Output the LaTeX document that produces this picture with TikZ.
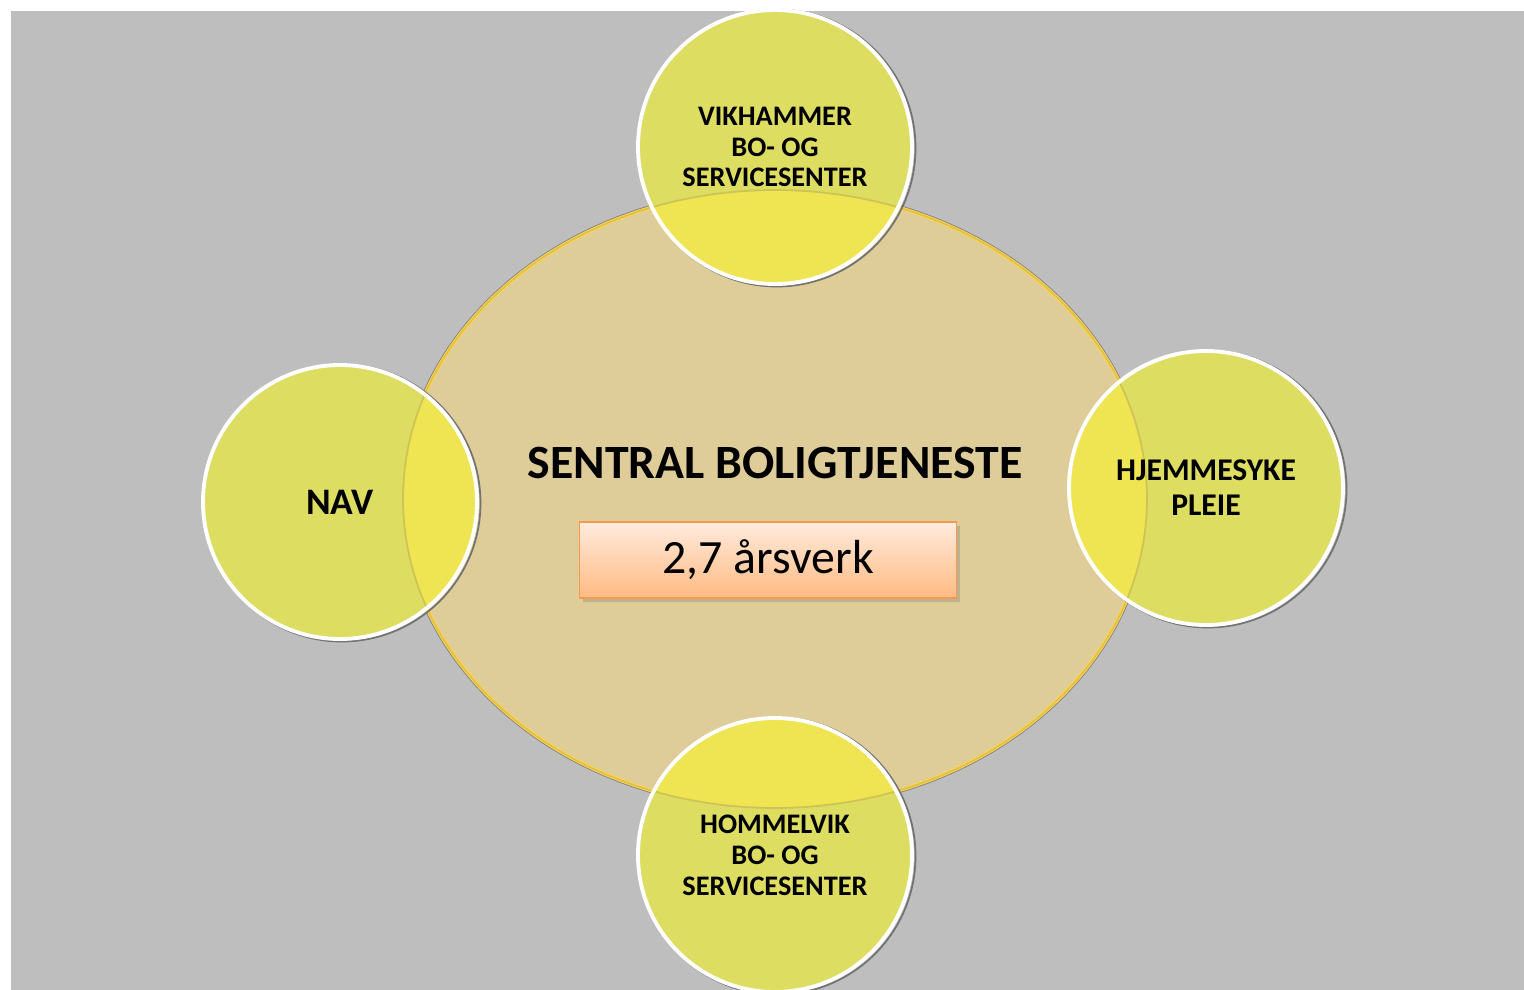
\documentclass[tikz,border=0pt]{standalone}
\usepackage{fontspec}
\setmainfont{Carlito}
\usetikzlibrary{shadows}

\definecolor{bggrey}{HTML}{BEBEBE}
\definecolor{ovaltan}{HTML}{DFCD99}
\definecolor{ovaledge}{HTML}{FDD750}
\definecolor{ballfill}{HTML}{DDDD62}
\definecolor{ballover}{HTML}{EFE552}
\definecolor{boxedge}{HTML}{F59A4E}
\definecolor{boxtop}{HTML}{FFEBDD}
\definecolor{boxbot}{HTML}{FFBA82}

\begin{document}
\begin{tikzpicture}[x=0.02cm,y=-0.02cm,
  ball/.style={circle,minimum size=5.48cm,inner sep=0pt,align=center,
    font=\bfseries\fontsize{16.1}{17.6}\selectfont},
  rim/.style={white,line width=2.2pt},
  rimshadow/.style={black!55,line width=1pt}]
\useasboundingbox (0,0) rectangle (1524,990);
\fill[bggrey] (11,11) rectangle (1524,990);

\coordinate (cvik) at (775,147);
\coordinate (cnav) at (340,502);
\coordinate (chje) at (1206,488);
\coordinate (chom) at (775,855);

% big oval
\draw[black!50,line width=0.7pt] (775,499) ellipse [x radius=374,y radius=311];
\fill[ovaltan] (775,499) ellipse [x radius=372,y radius=309];
\draw[ovaledge,line width=2pt] (775,499) ellipse [x radius=372,y radius=309];

% the four balls
\foreach \c in {cvik,cnav,chje,chom}
  \fill[ballfill] (\c) circle [radius=137];
\begin{scope}
\clip (775,499) ellipse [x radius=371,y radius=308];
\foreach \c in {cvik,cnav,chje,chom}
  \fill[ballover] (\c) circle [radius=137];
\end{scope}
\draw[ovaledge!70!black,opacity=0.35,line width=1pt] (775,499) ellipse [x radius=372,y radius=309];
\foreach \c in {cvik,cnav,chje,chom}{
  \draw[rimshadow] ([shift={(2,1)}]\c) circle [radius=138.5];
  \draw[rim] (\c) circle [radius=137];
}

\node[ball] (vik) at (cvik) {VIKHAMMER\\BO- OG\\SERVICESENTER};
\node[ball,font=\bfseries\fontsize{21.3}{25}\selectfont] (nav) at (cnav) {NAV};
\node[ball,font=\bfseries\fontsize{18}{19.8}\selectfont] (hje) at (chje) {HJEMMESYKE\\PLEIE};
\node[ball] (hom) at (chom) {HOMMELVIK\\BO- OG\\SERVICESENTER};

\node[font=\bfseries\fontsize{27.2}{32}\selectfont] (title) at (775,463) {SENTRAL BOLIGTJENESTE};
\node[draw=boxedge,line width=0.8pt,top color=boxtop,bottom color=boxbot,
  minimum width=7.54cm,minimum height=1.52cm,
  drop shadow={shadow xshift=2pt,shadow yshift=-2pt,opacity=0.35},
  font=\fontsize{27.2}{32}\selectfont] (fte) at (768,560) {2,7 årsverk};
\end{tikzpicture}
\end{document}
